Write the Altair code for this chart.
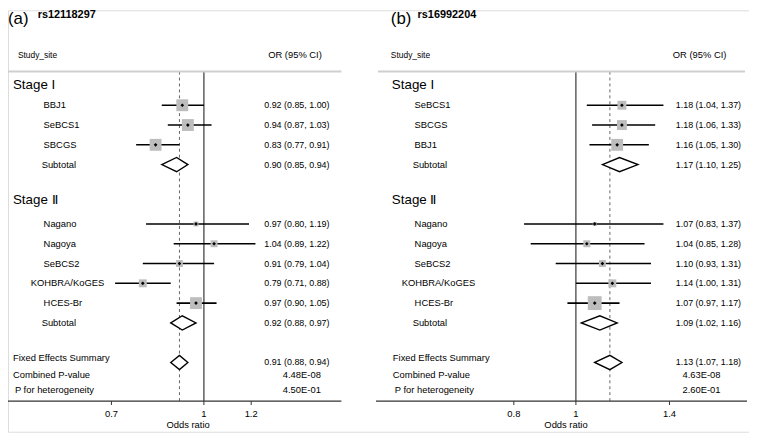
import altair as alt
import pandas as pd

# ---------------- data ----------------
snp_a = "rs12118297"
sites_a = ["BBJ1", "SeBCS1", "SBCGS", "Nagano", "Nagoya", "SeBCS2", "KOHBRA/KoGES", "HCES-Br"]
stage_a = ["I", "I", "I", "II", "II", "II", "II", "II"]
or_a = [0.92, 0.94, 0.83, 0.97, 1.04, 0.91, 0.79, 0.97]
lo_a = [0.85, 0.87, 0.77, 0.80, 0.89, 0.79, 0.71, 0.90]
hi_a = [1.00, 1.03, 0.91, 1.19, 1.22, 1.04, 0.88, 1.05]
wt_a = [12, 12, 12, 5, 7, 7, 8, 12]
sub_or_a = [0.90, 0.92]
sub_lo_a = [0.85, 0.88]
sub_hi_a = [0.94, 0.97]
fixed_a = [0.91, 0.88, 0.94]
pvals_a = ["4.48E-08", "4.50E-01"]
ticks_a = [0.7, 1, 1.2]

snp_b = "rs16992204"
sites_b = ["SeBCS1", "SBCGS", "BBJ1", "Nagano", "Nagoya", "SeBCS2", "KOHBRA/KoGES", "HCES-Br"]
stage_b = ["I", "I", "I", "II", "II", "II", "II", "II"]
or_b = [1.18, 1.18, 1.16, 1.07, 1.04, 1.10, 1.14, 1.07]
lo_b = [1.04, 1.06, 1.05, 0.83, 0.85, 0.93, 1.00, 0.97]
hi_b = [1.37, 1.33, 1.30, 1.37, 1.28, 1.31, 1.31, 1.17]
wt_b = [9, 10, 12, 4, 7, 7, 8, 14]
sub_or_b = [1.17, 1.09]
sub_lo_b = [1.10, 1.02]
sub_hi_b = [1.25, 1.16]
fixed_b = [1.13, 1.07, 1.18]
pvals_b = ["4.63E-08", "2.60E-01"]
ticks_b = [0.8, 1, 1.4]

stages = ["I", "II"]
stage_labels = ["Stage I", "Stage \u2161"]

# ---------------- layout ----------------
FONT = "Liberation Sans"
STUDY_ROWS = [1, 2, 3, 7, 8, 9, 10, 11]
SUB_ROWS = [4, 12]
STAGE_ROWS = [0, 5.8]
FIXED_ROW = 14
TXT_ROWS = [13.8, 14.62, 15.4]
Y_SCALE = alt.Scale(domain=[0, 16], range=[76, 396], nice=False, zero=False)
DH = 0.36  # half height of diamonds in rows


def fmt(o, l, h):
    return f"{o:.2f} ({l:.2f}, {h:.2f})"


def panel(tag, snp, sites, stage, ors, los, his, wts, s_or, s_lo, s_hi, fixed, pvals, ticks,
          xdom, xrng, lx):
    xs = alt.Scale(type="log", domain=xdom, range=xrng, nice=False)
    L = lx  # dict of layout x positions

    studies = pd.DataFrame({
        "site": sites, "stage": stage, "or": ors, "lo": los, "hi": his, "w": wts,
        "row": STUDY_ROWS,
    })
    studies["label"] = [fmt(o, l, h) for o, l, h in zip(ors, los, his)]
    studies["area"] = [w * w for w in wts]
    studies["nx"] = [L["kohbra"] if s == "KOHBRA/KoGES" else L["name"] for s in sites]

    # diamonds (subtotals + fixed effects)
    dia_rows = []
    all_dia = [(s_or[i], s_lo[i], s_hi[i], SUB_ROWS[i], f"s{i}") for i in range(2)]
    all_dia.append((fixed[0], fixed[1], fixed[2], FIXED_ROW, "f"))
    for o, l, h, r, k in all_dia:
        dia_rows += [
            {"id": k, "x": l, "y": r, "y2": r},
            {"id": k, "x": o, "y": r - DH, "y2": r + DH},
            {"id": k, "x": h, "y": r, "y2": r},
        ]
    dia = pd.DataFrame(dia_rows)

    subs = pd.DataFrame({"row": SUB_ROWS,
                         "label": [fmt(o, l, h) for o, l, h in zip(s_or, s_lo, s_hi)],
                         "name": ["Subtotal", "Subtotal"]})
    fixed_df = pd.DataFrame({"row": [FIXED_ROW], "label": [fmt(*fixed)]})
    stage_df = pd.DataFrame({"row": STAGE_ROWS, "label": stage_labels})
    summ_df = pd.DataFrame({"row": TXT_ROWS,
                            "label": ["Fixed Effects Summary", "Combined P-value", "P for heterogeneity"],
                            "nx": [L["sum"], L["sum"], L["sum"] + 2]})
    p_df = pd.DataFrame({"row": TXT_ROWS[1:], "label": pvals})
    ref_df = pd.DataFrame({"v": [1.0, fixed[0]], "kind": ["solid", "dash"]})
    tick_df = pd.DataFrame({"t": ticks, "lab": [str(t) if t != 1 else "1" for t in ticks]})
    head_df = pd.DataFrame({"a": [0]})

    Y = alt.Y("row:Q", scale=Y_SCALE, axis=None)

    vsolid = alt.Chart(ref_df).transform_filter("datum.kind == 'solid'").mark_rule(
        color="#444444", strokeWidth=1.3
    ).encode(x=alt.X("v:Q", scale=xs, axis=None), y=alt.value(62), y2=alt.value(395))
    vdash = alt.Chart(ref_df).transform_filter("datum.kind == 'dash'").mark_rule(
        color="#666666", strokeWidth=1, strokeDash=[3, 3]
    ).encode(x=alt.X("v:Q", scale=xs, axis=None), y=alt.value(62), y2=alt.value(395))

    hline = alt.Chart(head_df).mark_rule(color="#cfcfcf", strokeWidth=2).encode(
        x=alt.value(L["line0"]), x2=alt.value(L["line1"]), y=alt.value(62))
    axline = alt.Chart(head_df).mark_rule(color="#333333", strokeWidth=1.2).encode(
        x=alt.value(L["ax0"]), x2=alt.value(L["ax1"]), y=alt.value(395))
    tickm = alt.Chart(tick_df).mark_rule(color="#333333", strokeWidth=1).encode(
        x=alt.X("t:Q", scale=xs, axis=None), y=alt.value(395), y2=alt.value(399))
    tickl = alt.Chart(tick_df).mark_text(font=FONT, fontSize=9.5, baseline="middle").encode(
        x=alt.X("t:Q", scale=xs, axis=None), y=alt.value(408.5), text="lab:N")
    oddsr = alt.Chart(head_df).mark_text(font=FONT, fontSize=9.5, baseline="middle",
                                         text="Odds ratio").encode(
        x=alt.value(L["odds"]), y=alt.value(419.5))

    ci = alt.Chart(studies).mark_rule(color="black", strokeWidth=1.6).encode(
        x=alt.X("lo:Q", scale=xs, axis=None), x2="hi:Q", y=Y)
    sq = alt.Chart(studies).mark_square(color="#bdbdbd", opacity=1, filled=True).encode(
        x=alt.X("or:Q", scale=xs, axis=None), y=Y, size=alt.Size("area:Q", scale=None, legend=None))
    pt = alt.Chart(studies).mark_point(shape="diamond", filled=True, color="black", size=14, opacity=1).encode(
        x=alt.X("or:Q", scale=xs, axis=None), y=Y)
    dmd = alt.Chart(dia).mark_area(fill="white", stroke="black", strokeWidth=1.4,
                                   fillOpacity=1, interpolate="linear").encode(
        x=alt.X("x:Q", scale=xs, axis=None),
        y=alt.Y("y:Q", scale=Y_SCALE, axis=None), y2="y2:Q", detail="id:N")

    names = alt.Chart(studies).mark_text(font=FONT, fontSize=9.5, align="left", baseline="middle").encode(
        x=alt.X("nx:Q", scale=None), y=Y, text="site:N")
    ortxt = alt.Chart(studies).mark_text(font=FONT, fontSize=9, align="left", baseline="middle").encode(
        x=alt.value(L["or"]), y=Y, text="label:N")
    subn = alt.Chart(subs).mark_text(font=FONT, fontSize=9.5, align="left", baseline="middle").encode(
        x=alt.value(L["sub"]), y=alt.Y("row:Q", scale=Y_SCALE, axis=None), text="name:N")
    subo = alt.Chart(subs).mark_text(font=FONT, fontSize=9, align="left", baseline="middle").encode(
        x=alt.value(L["or"]), y=alt.Y("row:Q", scale=Y_SCALE, axis=None), text="label:N")
    fixo = alt.Chart(fixed_df).mark_text(font=FONT, fontSize=9, align="left", baseline="middle").encode(
        x=alt.value(L["or"]), y=alt.Y("row:Q", scale=Y_SCALE, axis=None), text="label:N")
    stg = alt.Chart(stage_df).mark_text(font=FONT, fontSize=13.5, align="left", baseline="middle").encode(
        x=alt.value(L["stage"]), y=alt.Y("row:Q", scale=Y_SCALE, axis=None), text="label:N")
    summ = alt.Chart(summ_df).mark_text(font=FONT, fontSize=9.5, align="left", baseline="middle").encode(
        x=alt.X("nx:Q", scale=None), y=alt.Y("row:Q", scale=Y_SCALE, axis=None), text="label:N")
    ptxt = alt.Chart(p_df).mark_text(font=FONT, fontSize=9.5, align="center", baseline="middle").encode(
        x=alt.value(L["p"]), y=alt.Y("row:Q", scale=Y_SCALE, axis=None), text="label:N")

    h1 = alt.Chart(head_df).mark_text(font=FONT, fontSize=8.5, align="left", baseline="middle",
                                      text="Study_site").encode(x=alt.value(L["study"]), y=alt.value(45))
    h2 = alt.Chart(head_df).mark_text(font=FONT, fontSize=9.5, align="left", baseline="middle",
                                      text="OR (95% CI)").encode(x=alt.value(L["orh"]), y=alt.value(45))
    t1 = alt.Chart(head_df).mark_text(font=FONT, fontSize=17, align="left", baseline="middle",
                                      text=f"({tag})").encode(x=alt.value(L["tag"]), y=alt.value(9))
    t2 = alt.Chart(head_df).mark_text(font=FONT, fontSize=11, fontWeight="bold", align="left",
                                      baseline="middle", text=snp).encode(x=alt.value(L["snp"]), y=alt.value(5))

    return alt.layer(vsolid, vdash, hline, axline, tickm, tickl, oddsr, ci, sq, pt, dmd,
                     names, ortxt, subn, subo, fixo, stg, summ, ptxt, h1, h2, t1, t2)


LA = dict(line0=0, line1=337, ax0=0, ax1=337, odds=182, name=36, kohbra=23, sub=34, sum=5,
          stage=5, study=10, orh=263, tag=0, snp=30, p=297, **{"or": 259})
LB = dict(line0=374, line1=745, ax0=372, ax1=747, odds=564, name=411, kohbra=398, sub=409, sum=389,
          stage=388, study=387, orh=672, tag=387, snp=414, p=701, **{"or": 675})

pa = panel("a", snp_a, sites_a, stage_a, or_a, lo_a, hi_a, wt_a, sub_or_a, sub_lo_a, sub_hi_a,
           fixed_a, pvals_a, ticks_a, [0.7, 1.2], [104.55, 245.8], LA)
pb = panel("b", snp_b, sites_b, stage_b, or_b, lo_b, hi_b, wt_b, sub_or_b, sub_lo_b, sub_hi_b,
           fixed_b, pvals_b, ticks_b, [0.8, 1.4], [511.3, 668.6], LB)

chart = alt.layer(pa, pb).resolve_scale(x="independent").properties(
    width=749, height=426, padding=0, autosize=alt.AutoSizeParams(type="none")
).configure_view(stroke=None).configure(background="white")

chart.save("out.html", embed_options={"renderer": "svg", "actions": False})
